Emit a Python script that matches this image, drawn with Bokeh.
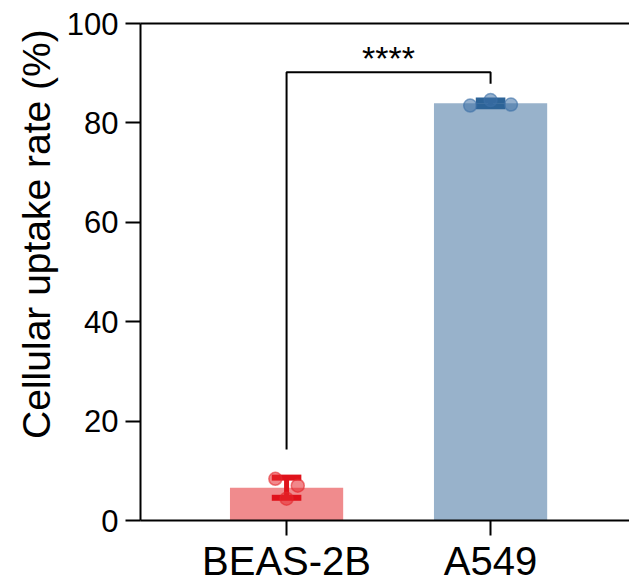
import numpy as np
from bokeh.plotting import figure
from bokeh.models import LinearAxis, FixedTicker, Range1d
from bokeh.core.properties import value
from bokeh.embed import file_html
from bokeh.resources import INLINE

# ---- data ----
categories = ["BEAS-2B", "A549"]
beas_values = [8.4, 7.0, 4.4]
a549_values = [83.5, 84.6, 83.7]
y_ticks = [0, 20, 40, 60, 80, 100]
y_label = "Cellular uptake rate (%)"
sig_label = "****"
sig_bracket_y = 90.2
sig_left_end = 14.3
sig_right_end = 87.9

groups = [beas_values, a549_values]
xpos = [1, 2]
means = [float(np.mean(g)) for g in groups]
sds = [float(np.std(g, ddof=1)) for g in groups]

# styles
bar_colors = ["#F08B8D", "#98B2CB"]
pt_colors = ["#E5262C", "#3C70A6"]
err_colors = ["#E0121B", "#2C6397"]
jitters = [[-0.055, 0.055, 0.0], [-0.1, 0.0, 0.1]]
FONT = "Liberation Sans"

p = figure(width=629, height=587, output_backend="svg", toolbar_location=None,
           x_range=Range1d(0.284, 2.681), y_range=Range1d(0, 100),
           min_border_left=140, min_border_right=0, min_border_top=23, min_border_bottom=67)
p.outline_line_color = None
p.grid.visible = False
p.background_fill_color = "white"
p.border_fill_color = "white"

# bars
p.vbar(x=xpos, top=means, width=0.555, color=bar_colors, line_color=None)

# error bars
cap = 0.145
for i in range(2):
    lo, hi = means[i] - sds[i], means[i] + sds[i]
    p.segment(x0=[xpos[i]], y0=[lo], x1=[xpos[i]], y1=[hi], line_color=err_colors[i], line_width=5)
    p.segment(x0=[xpos[i] - cap / 2] * 2, y0=[lo, hi], x1=[xpos[i] + cap / 2] * 2, y1=[lo, hi],
              line_color=err_colors[i], line_width=6)

# points
for i in range(2):
    xs = [xpos[i] + j for j in jitters[i]]
    p.scatter(xs, groups[i], size=13, fill_color=pt_colors[i], fill_alpha=0.55,
              line_color=pt_colors[i], line_alpha=0.6, line_width=1.5)

# significance bracket
p.line([xpos[0], xpos[0], xpos[1], xpos[1]],
       [sig_left_end, sig_bracket_y, sig_bracket_y, sig_right_end],
       line_color="black", line_width=2)
p.text(x=[(xpos[0] + xpos[1]) / 2], y=[sig_bracket_y], text=[sig_label],
       text_font=value(FONT), text_font_size="34px", text_align="center",
       text_baseline="alphabetic", text_color="black", y_offset=-14)

# axes
p.yaxis.ticker = FixedTicker(ticks=y_ticks)
p.xaxis.ticker = FixedTicker(ticks=xpos)
p.xaxis.major_label_overrides = {xpos[i]: categories[i] for i in range(2)}
for ax in (p.xaxis[0], p.yaxis[0]):
    ax.axis_line_width = 2
    ax.axis_line_color = "black"
    ax.major_tick_line_width = 2
    ax.major_tick_line_color = "black"
    ax.major_tick_out = 15
    ax.major_tick_in = 0
    ax.minor_tick_line_color = None
    ax.major_label_text_font = FONT
    ax.major_label_text_color = "black"
p.yaxis.major_label_text_font_size = "31px"
p.yaxis.major_label_standoff = 7
p.xaxis.major_label_text_font_size = "40px"
p.xaxis.major_label_standoff = 3

# leading no-break spaces lift the (rotated) title above centre, as in the original
p.yaxis.axis_label = "\u00a0" * 7 + y_label
p.yaxis.axis_label_text_font = FONT
p.yaxis.axis_label_text_font_size = "39px"
p.yaxis.axis_label_text_font_style = "normal"
p.yaxis.axis_label_text_color = "black"
p.yaxis.axis_label_standoff = 6

top_ax = LinearAxis(ticker=FixedTicker(ticks=[]), axis_line_width=2, axis_line_color="black",
                    major_tick_line_color=None, minor_tick_line_color=None,
                    major_label_text_font_size="0px")
p.add_layout(top_ax, "above")

open("out.html", "w").write(file_html(p, INLINE))
